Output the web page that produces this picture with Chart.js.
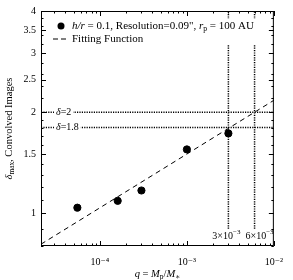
<!DOCTYPE html>
<html>
<head>
<meta charset="utf-8">
<script src="https://cdn.jsdelivr.net/npm/chart.js@4.4.0/dist/chart.umd.min.js"></script>
<style>
  html, body { margin: 0; padding: 0; background: #fff; }
  #wrap { width: 293px; height: 280px; }
</style>
</head>
<body>
<div id="wrap"><canvas id="myChart" width="293" height="280"></canvas></div>
<script>
// simulation points (q = Mp/M*, delta_max)
var qVals = [5.5e-5, 1.6e-4, 3.0e-4, 1.0e-3, 3.0e-3];
var deltaVals = [1.04, 1.09, 1.17, 1.55, 1.73];

// fitting function end points
var fitQ = [2.1e-5, 1.0e-2];
var fitDelta = [0.81, 2.17];

// reference lines
var deltaRefs = [2, 1.8];
var deltaRefLabels = ['δ=2', 'δ=1.8'];
var qRefs = [3e-3, 6e-3];
var qRefLabels = [['3×10', '−3'], ['6×10', '−3']];

var xMin = 2.1e-5, xMax = 1.0e-2;
var yMin = 0.8, yMax = 4;
var xMajor = [1e-4, 1e-3, 1e-2];
var xMajorLabels = ['10⁻⁴', '10⁻³', '10⁻²'];
var yMajor = [1, 1.5, 2, 2.5, 3, 3.5, 4];
var yMinor = [0.8, 0.9, 1.1, 1.2, 1.3, 1.4, 1.6, 1.7, 1.8, 1.9, 2.2, 2.4, 2.6, 2.8, 3.2, 3.4, 3.6, 3.8];

var serif = "'Liberation Serif', 'DejaVu Serif', serif";

function xTickList() {
  var t = [];
  for (var e = -5; e <= -2; e++) {
    for (var m = 1; m <= 9; m++) {
      var v = m * Math.pow(10, e);
      if (v >= xMin * 0.999 && v <= xMax * 1.001) t.push({ value: v });
    }
  }
  return t;
}

function isMajor(list, v) {
  for (var i = 0; i < list.length; i++) {
    if (Math.abs(list[i] - v) / list[i] < 1e-6) return true;
  }
  return false;
}

// draw text made of pieces: [text, style] style: '', 'i', 'sub', 'sup'
function richWidth(ctx, parts, size) {
  var w = 0;
  parts.forEach(function (p) {
    var s = (p[1] == 'sub' || p[1] == 'sup') ? size * 0.7 : size;
    ctx.font = (p[1] == 'i' ? 'italic ' : '') + s + 'px ' + serif;
    w += ctx.measureText(p[0]).width;
  });
  return w;
}
function richText(ctx, parts, x, y, size) {
  ctx.textBaseline = 'middle';
  ctx.textAlign = 'left';
  parts.forEach(function (p) {
    var s = size, dy = 0;
    if (p[1] == 'sub') { s = size * 0.7; dy = size * 0.28; }
    if (p[1] == 'sup') { s = size * 0.7; dy = -size * 0.35; }
    ctx.font = (p[1] == 'i' ? 'italic ' : '') + s + 'px ' + serif;
    ctx.fillText(p[0], x, y + dy);
    x += ctx.measureText(p[0]).width;
  });
  return x;
}

var frame = {
  id: 'frame',
  afterDatasetsDraw: function (chart) {
    var ctx = chart.ctx, a = chart.chartArea;
    var xs = chart.scales.x, ys = chart.scales.y;
    ctx.save();
    ctx.fillStyle = '#000';

    // labels on reference lines
    deltaRefs.forEach(function (d, i) {
      var py = ys.getPixelForValue(d);
      var parts = [['δ', 'i'], [deltaRefLabels[i].slice(1), '']];
      var w = richWidth(ctx, parts, 10);
      ctx.fillStyle = '#fff';
      ctx.fillRect(a.left + 13, py - 5, w + 4, 10);
      ctx.fillStyle = '#000';
      richText(ctx, parts, a.left + 15, py, 10);
    });
    qRefs.forEach(function (q, i) {
      var px = xs.getPixelForValue(q);
      var parts = [[qRefLabels[i][0], ''], [qRefLabels[i][1], 'sup']];
      var w = richWidth(ctx, parts, 10);
      var cx = i == 0 ? px - 2 : px + 5;
      richText(ctx, parts, cx - w / 2, a.bottom - 10, 10);
    });

    // legend
    ctx.fillStyle = '#fff';
    ctx.fillRect(a.left + 8, a.top + 8, 234, 26);
    ctx.fillStyle = '#000';
    ctx.beginPath();
    ctx.arc(a.left + 20, a.top + 15, 3.5, 0, Math.PI * 2);
    ctx.fill();
    richText(ctx, [['h/r', 'i'], [' = 0.1, Resolution=0.09", ', ''], ['r', 'i'], ['p', 'sub'], [' = 100 AU', '']], a.left + 31, a.top + 15, 11);
    ctx.strokeStyle = '#000';
    ctx.lineWidth = 1;
    ctx.setLineDash([5, 3]);
    ctx.beginPath();
    ctx.moveTo(a.left + 12, a.top + 28);
    ctx.lineTo(a.left + 28, a.top + 28);
    ctx.stroke();
    ctx.setLineDash([]);
    richText(ctx, [['Fitting Function', '']], a.left + 31, a.top + 28, 11);

    // box
    ctx.strokeStyle = '#000';
    ctx.lineWidth = 1;
    ctx.strokeRect(a.left + 0.5, a.top + 0.5, a.right - a.left - 1, a.bottom - a.top - 1);

    // inward ticks on all four sides
    ctx.beginPath();
    xs.ticks.forEach(function (t) {
      var px = Math.round(xs.getPixelForValue(t.value)) + 0.5;
      var len = isMajor(xMajor, t.value) ? 5 : 2.5;
      ctx.moveTo(px, a.bottom); ctx.lineTo(px, a.bottom - len);
      ctx.moveTo(px, a.top); ctx.lineTo(px, a.top + len);
    });
    ys.ticks.forEach(function (t) {
      var py = Math.round(ys.getPixelForValue(t.value)) + 0.5;
      var len = isMajor(yMajor, t.value) ? 5 : 2.5;
      ctx.moveTo(a.left, py); ctx.lineTo(a.left + len, py);
      ctx.moveTo(a.right, py); ctx.lineTo(a.right - len, py);
    });
    ctx.stroke();

    // axis titles
    var xt = [['q', 'i'], [' = ', ''], ['M', 'i'], ['p', 'sub'], ['/', ''], ['M', 'i'], ['∗', 'sub']];
    var xw = richWidth(ctx, xt, 10.5);
    richText(ctx, xt, (a.left + a.right) / 2 - xw / 2, 274, 10.5);
    var yt = [['δ', 'i'], ['max', 'sub'], [', Convolved Images', '']];
    var yw = richWidth(ctx, yt, 10.5);
    ctx.translate(9, (a.top + a.bottom) / 2);
    ctx.rotate(-Math.PI / 2);
    richText(ctx, yt, -yw / 2, 0, 10.5);
    ctx.restore();
  }
};

var refSets = [];
deltaRefs.forEach(function (d) {
  refSets.push({
    data: [{ x: xMin, y: d }, { x: xMax, y: d }],
    showLine: true, borderColor: '#000', borderWidth: 1.5, borderDash: [1.2, 1.2],
    pointRadius: 0, order: 3
  });
});
qRefs.forEach(function (q) {
  refSets.push({
    data: [{ x: q, y: 0.9 }, { x: q, y: yMax }],
    showLine: true, borderColor: '#000', borderWidth: 1.5, borderDash: [1.2, 1.2],
    pointRadius: 0, order: 3
  });
});

var config = {
  type: 'scatter',
  data: {
    datasets: [{
      label: 'h/r = 0.1',
      data: qVals.map(function (q, i) { return { x: q, y: deltaVals[i] }; }),
      backgroundColor: '#000',
      borderColor: '#000',
      pointRadius: 3.6,
      order: 1
    }, {
      label: 'Fitting Function',
      data: fitQ.map(function (q, i) { return { x: q, y: fitDelta[i] }; }),
      showLine: true,
      borderColor: '#000',
      borderWidth: 1,
      borderDash: [5, 4],
      pointRadius: 0,
      order: 2
    }].concat(refSets)
  },
  options: {
    responsive: false,
    animation: false,
    layout: { padding: { top: 5, right: 14, left: 0, bottom: 0 } },
    plugins: {
      legend: { display: false },
      tooltip: { enabled: false }
    },
    scales: {
      x: {
        type: 'logarithmic',
        min: xMin,
        max: xMax,
        afterBuildTicks: function (scale) { scale.ticks = xTickList(); },
        afterFit: function (scale) { scale.height = 34; },
        grid: { display: false, drawTicks: false },
        border: { display: false },
        ticks: {
          autoSkip: false,
          maxRotation: 0,
          padding: 10,
          color: '#000',
          font: { family: serif, size: 10 },
          callback: function (v) {
            for (var i = 0; i < xMajor.length; i++) {
              if (Math.abs(xMajor[i] - v) / v < 1e-6) return xMajorLabels[i];
            }
            return '';
          }
        }
      },
      y: {
        type: 'logarithmic',
        min: yMin,
        max: yMax,
        afterBuildTicks: function (scale) {
          scale.ticks = yMajor.concat(yMinor).sort(function (a, b) { return a - b; }).map(function (v) { return { value: v }; });
        },
        afterFit: function (scale) { scale.width = 41; },
        grid: { display: false, drawTicks: false },
        border: { display: false },
        ticks: {
          autoSkip: false,
          padding: 5,
          color: '#000',
          font: { family: serif, size: 10 },
          callback: function (v) {
            return isMajor(yMajor, v) ? String(v) : '';
          }
        }
      }
    }
  },
  plugins: [frame]
};

new Chart(document.getElementById('myChart'), config);
</script>
</body>
</html>
